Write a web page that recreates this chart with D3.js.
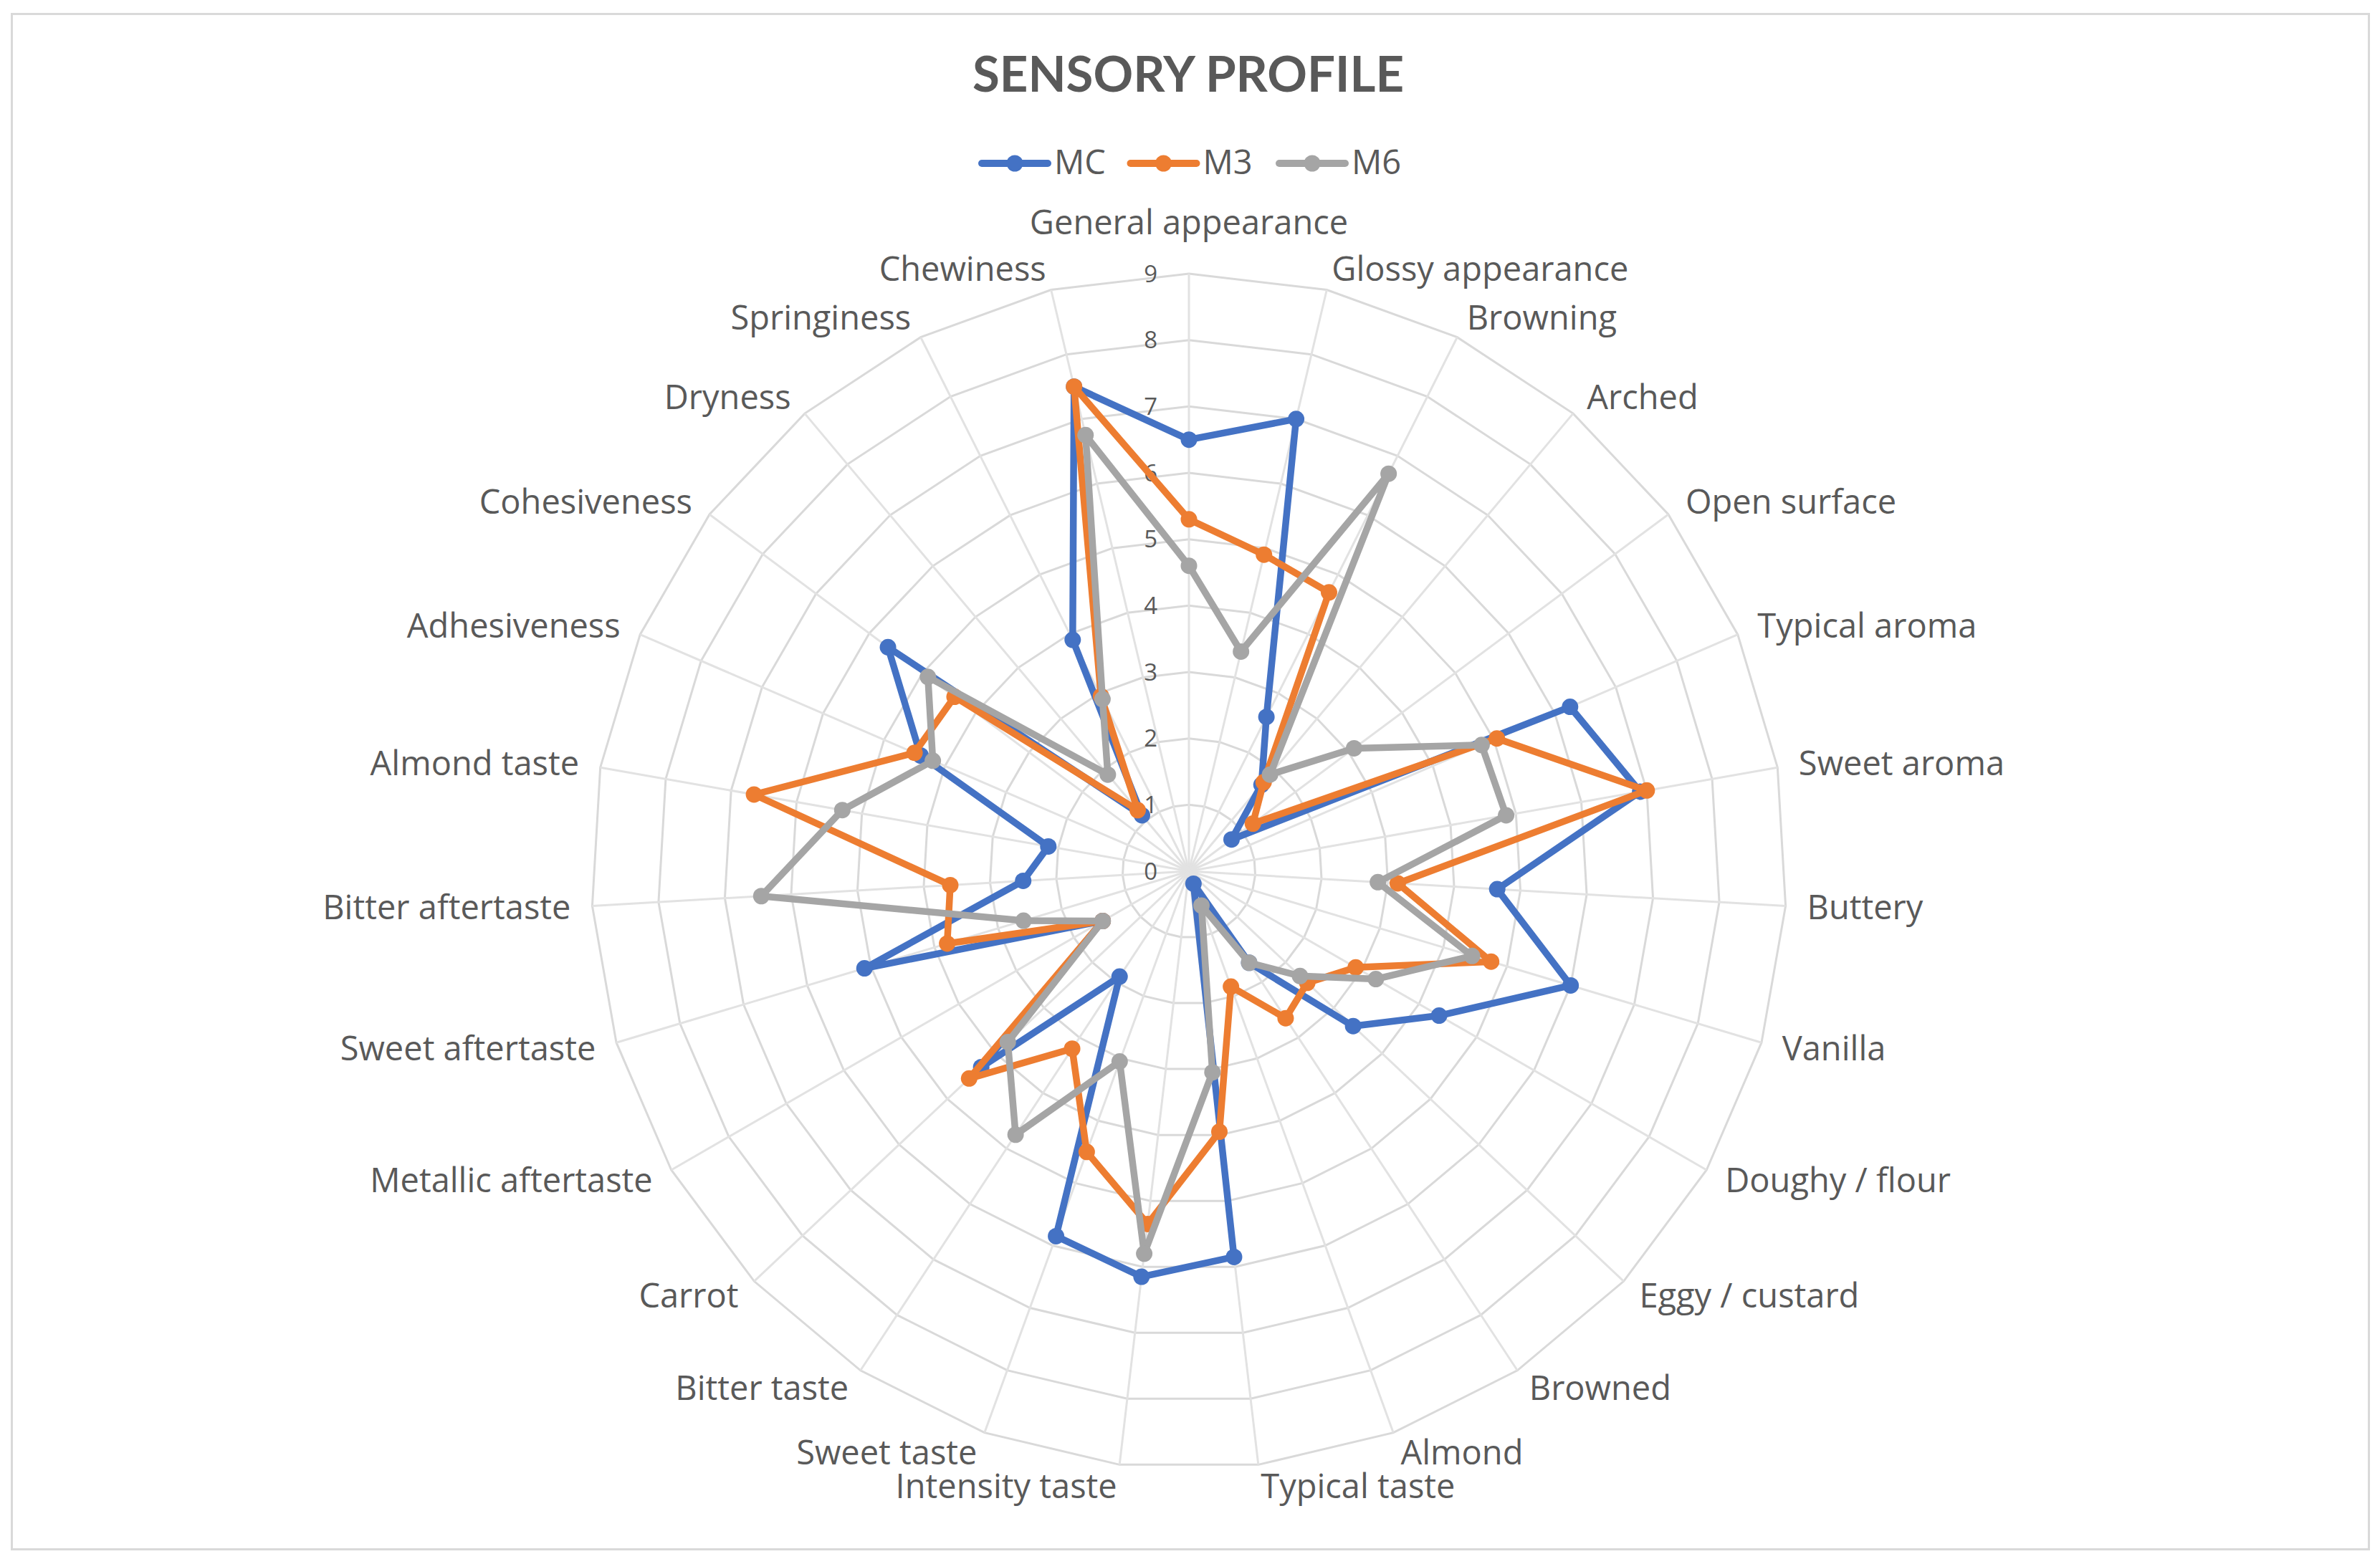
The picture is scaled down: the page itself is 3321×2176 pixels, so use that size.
<!DOCTYPE html>
<html>
<head>
<meta charset="utf-8">
<script src="https://cdn.jsdelivr.net/npm/d3@7"></script>
<style>
  html, body { margin: 0; padding: 0; background: #ffffff; }
  svg { display: block; }
</style>
</head>
<body>
<script>
// ---------------- DATA ----------------
const categories = [
  "General appearance", "Glossy appearance", "Browning", "Arched", "Open surface",
  "Typical aroma", "Sweet aroma", "Buttery", "Vanilla", "Doughy / flour",
  "Eggy / custard", "Browned", "Almond", "Typical taste", "Intensity taste",
  "Sweet taste", "Bitter taste", "Carrot", "Metallic aftertaste", "Sweet aftertaste",
  "Bitter aftertaste", "Almond taste", "Adhesiveness", "Cohesiveness", "Dryness",
  "Springiness", "Chewiness"
];
const seriesNames = ["MC", "M3", "M6"];
const valuesMC = [6.5, 7.0, 2.6, 1.7, 0.8, 6.25, 6.9, 4.65, 6.0, 4.35, 3.4, 1.65, 0.2, 5.85, 6.15, 5.85, 1.9, 4.3, 1.5, 5.1, 2.5, 2.15, 4.4, 5.65, 1.1, 3.9, 7.5];
const valuesM3 = [5.3, 4.9, 4.7, 1.75, 1.2, 5.05, 7.0, 3.15, 4.75, 2.9, 2.45, 2.65, 1.85, 3.95, 5.35, 4.5, 3.2, 4.55, 1.5, 3.8, 3.6, 6.65, 4.5, 4.4, 1.2, 2.95, 7.5];
const valuesM6 = [4.6, 3.4, 6.7, 1.9, 3.1, 4.8, 4.85, 2.85, 4.45, 3.25, 2.3, 1.65, 0.55, 3.05, 5.8, 3.05, 4.75, 3.75, 1.5, 2.6, 6.45, 5.3, 4.2, 4.9, 1.9, 2.9, 6.75];
const seriesColors = ["#4472C4", "#ED7D31", "#A5A5A5"];
const tickValues = [0, 1, 2, 3, 4, 5, 6, 7, 8, 9];
const titleText = "SENSORY PROFILE";

// ---------------- LAYOUT ----------------
const W = 3321, H = 2176;
const cx = 1659, cy = 1216, R = 834;
const textColor = "#595959";
const labelFont = "'Open Sans', 'DejaVu Sans', sans-serif";

const svg = d3.select("body").append("svg")
  .attr("width", W).attr("height", H)
  .attr("viewBox", `0 0 ${W} ${H}`);

svg.append("rect").attr("x", 0).attr("y", 0).attr("width", W).attr("height", H).attr("fill", "#ffffff");
// chart border
svg.append("rect")
  .attr("x", 16.5).attr("y", 19.5).attr("width", 3289).attr("height", 2143)
  .attr("fill", "none").attr("stroke", "#d9d9d9").attr("stroke-width", 3);

const r = d3.scaleLinear().domain([0, 9]).range([0, R]);
const angle = d3.scaleLinear().domain([0, categories.length]).range([0, 2 * Math.PI]);

const g = svg.append("g").attr("transform", `translate(${cx},${cy})`);

const pt = (i, v) => {
  const a = angle(i);
  return [r(v) * Math.sin(a), -r(v) * Math.cos(a)];
};

// ring gridlines (polygons)
const ringLine = d3.line().curve(d3.curveLinearClosed);
g.append("g").selectAll("path").data(tickValues.filter(t => t > 0)).join("path")
  .attr("d", t => ringLine(categories.map((c, i) => pt(i, t))))
  .attr("fill", "none").attr("stroke", "#d9d9d9").attr("stroke-width", 3);

// spokes
g.append("g").selectAll("line").data(categories).join("line")
  .attr("x1", 0).attr("y1", 0)
  .attr("x2", (c, i) => pt(i, 9)[0])
  .attr("y2", (c, i) => pt(i, 9)[1])
  .attr("stroke", "#e2e2e2").attr("stroke-width", 3);

// tick labels
g.append("g").selectAll("text").data(tickValues).join("text")
  .attr("x", -44).attr("y", t => -r(t)).attr("dy", "0.35em")
  .attr("text-anchor", "end")
  .attr("font-family", labelFont).attr("font-size", 33)
  .attr("fill", textColor)
  .text(t => t);

// category labels
g.append("g").selectAll("text").data(categories).join("text")
  .each(function (c, i) {
    const a = angle(i), s = Math.sin(a), co = Math.cos(a);
    const [vx, vy] = pt(i, 9);
    const el = d3.select(this);
    if (i === 0) {
      el.attr("x", 0).attr("y", vy - 71).attr("text-anchor", "middle");
    } else {
      el.attr("x", vx + 30 * s).attr("y", vy - 30 * co)
        .attr("text-anchor", s > 0 ? "start" : "end");
    }
  })
  .attr("dy", "0.35em")
  .attr("font-family", labelFont).attr("font-size", 47)
  .attr("fill", textColor)
  .text(c => c);

// series
const allSeries = [valuesMC, valuesM3, valuesM6];
const seriesLine = d3.line().curve(d3.curveLinearClosed);
allSeries.forEach((vals, si) => {
  const sg = g.append("g");
  sg.append("path")
    .attr("d", seriesLine(vals.map((v, i) => pt(i, v))))
    .attr("fill", "none").attr("stroke", seriesColors[si])
    .attr("stroke-width", 9.5).attr("stroke-linejoin", "round").attr("stroke-linecap", "round");
  sg.selectAll("circle").data(vals).join("circle")
    .attr("cx", (v, i) => pt(i, v)[0])
    .attr("cy", (v, i) => pt(i, v)[1])
    .attr("r", 11.5).attr("fill", seriesColors[si]);
});

// title
svg.append("text")
  .attr("x", 1658).attr("y", 128)
  .attr("text-anchor", "middle")
  .attr("font-family", "Lato, 'Open Sans', sans-serif").attr("font-weight", "bold")
  .attr("font-size", 69).attr("fill", textColor)
  .text(titleText);

// legend
const legend = svg.append("g");
const legX = d3.scaleLinear().domain([0, 1]).range([1370, 1577.5]);
seriesNames.forEach((name, i) => {
  const x0 = legX(i), ly = 228;
  legend.append("line").attr("x1", x0).attr("x2", x0 + 92).attr("y1", ly).attr("y2", ly)
    .attr("stroke", seriesColors[i]).attr("stroke-width", 10).attr("stroke-linecap", "round");
  legend.append("circle").attr("cx", x0 + 46).attr("cy", ly).attr("r", 11.5).attr("fill", seriesColors[i]);
  legend.append("text").attr("x", x0 + 101).attr("y", 243)
    .attr("font-family", labelFont).attr("font-size", 47).attr("fill", textColor)
    .text(name);
});
</script>
</body>
</html>
